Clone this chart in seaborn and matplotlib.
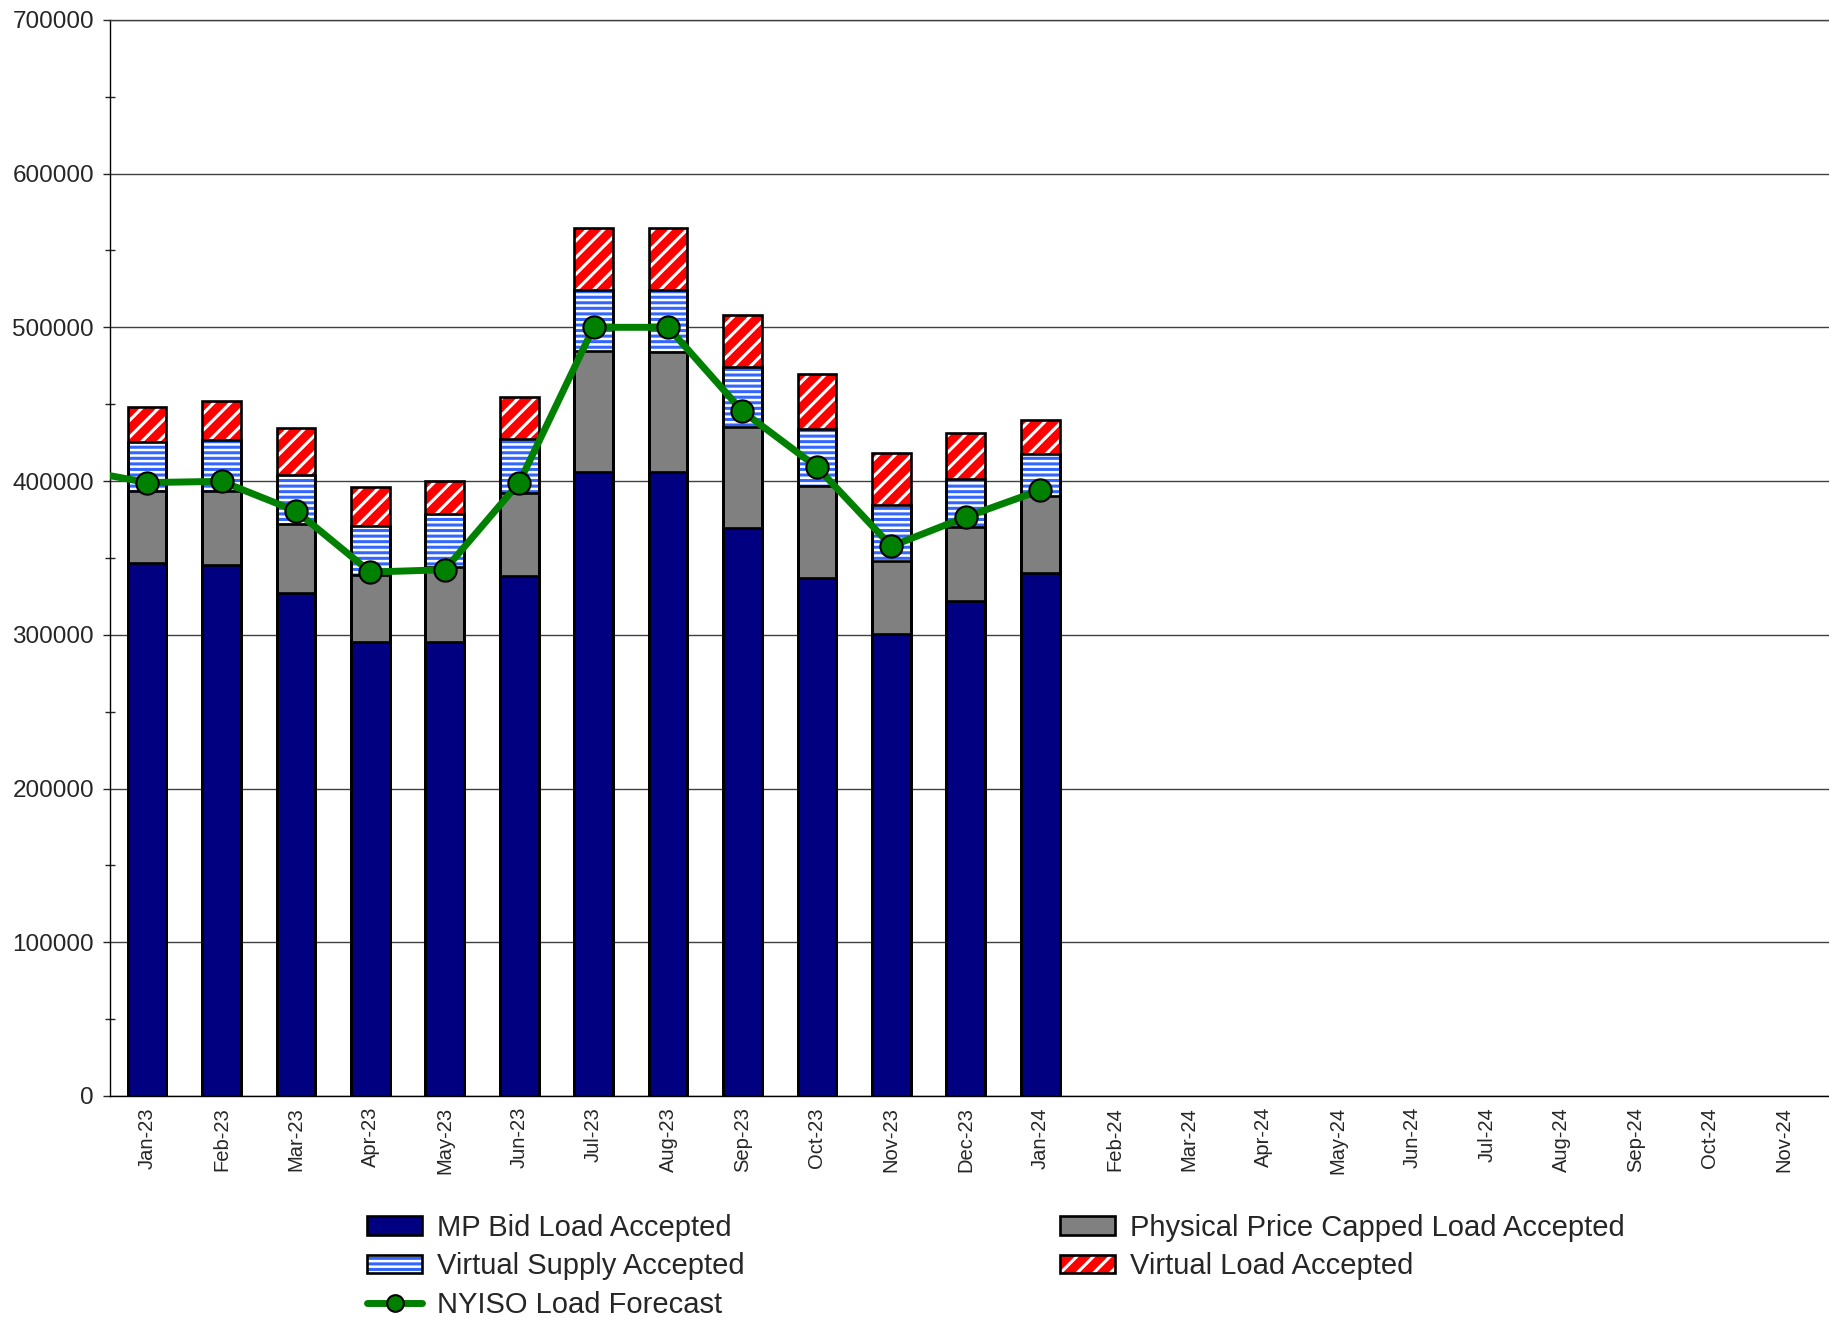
import numpy as np
import pandas as pd
import matplotlib
matplotlib.use('Agg')
import matplotlib.pyplot as plt
import seaborn as sns
from matplotlib.patches import Patch
from matplotlib.lines import Line2D

# Monthly values
months = ['Jan-23', 'Feb-23', 'Mar-23', 'Apr-23', 'May-23', 'Jun-23', 'Jul-23',
          'Aug-23', 'Sep-23', 'Oct-23', 'Nov-23', 'Dec-23', 'Jan-24', 'Feb-24',
          'Mar-24', 'Apr-24', 'May-24', 'Jun-24', 'Jul-24', 'Aug-24', 'Sep-24',
          'Oct-24', 'Nov-24']
mp_bid = [346600, 345600, 327100, 295200, 295600, 338200, 405900,
          405900, 369700, 336900, 300200, 322000, 340200]
phys_capped = [46700, 47700, 45200, 43400, 48400, 54200, 78500,
               78100, 65500, 59700, 48000, 47900, 49800]
virt_supply = [32100, 33200, 31400, 32400, 34300, 34700, 39800,
               40200, 39000, 37100, 36400, 31200, 27800]
virt_load = [22800, 25600, 30800, 25100, 21700, 27600, 40500,
             40500, 33700, 36200, 33900, 30200, 21800]
# forecast starts one month earlier (Dec-22), the line comes in from the left edge
forecast = [408000, 399000, 399800, 380500, 340800, 342300, 399000,
            500000, 500000, 445400, 409100, 357600, 376600, 394000]

n = len(mp_bid)
df = pd.DataFrame({'month': months[:n]})
df['mp'] = mp_bid
df['capped'] = df['mp'] + np.array(phys_capped)
df['vsupply'] = df['capped'] + np.array(virt_supply)
df['vload'] = df['vsupply'] + np.array(virt_load)

sns.set_style('white')
plt.rcParams['font.family'] = ['Liberation Sans', 'DejaVu Sans']
plt.rcParams['hatch.linewidth'] = 2.2

navy = '#000080'
gray = '#808080'
blue = '#3366FF'
red = '#FF0000'
green = '#008000'
bw = 0.52

fig = plt.figure(figsize=(18.29, 13.23), dpi=100)
ax = fig.add_axes([0.0601, 0.1716, 0.9399, 0.8134])

# stacked bars drawn as overlapping cumulative totals, top layer first
sns.barplot(data=df, x='month', y='vload', order=months, ax=ax, width=bw,
            errorbar=None, saturation=1, color=red, edgecolor='white',
            hatch='//', linewidth=0)
sns.barplot(data=df, x='month', y='vsupply', order=months, ax=ax, width=bw,
            errorbar=None, saturation=1, color='white', edgecolor=blue,
            hatch='---', linewidth=0)
sns.barplot(data=df, x='month', y='capped', order=months, ax=ax, width=bw,
            errorbar=None, saturation=1, color=gray, linewidth=0)
sns.barplot(data=df, x='month', y='mp', order=months, ax=ax, width=bw,
            errorbar=None, saturation=1, color=navy, linewidth=0)
# black outlines for every segment
for col in ['vload', 'vsupply', 'capped', 'mp']:
    sns.barplot(data=df, x='month', y=col, order=months, ax=ax, width=bw,
                errorbar=None, fill=False, color='black', linewidth=1.9)

xs = np.arange(-1, n)
sns.lineplot(x=xs, y=forecast, ax=ax, color=green, linewidth=5,
             marker='o', markersize=16, markerfacecolor=green,
             markeredgecolor='black', markeredgewidth=1.5, zorder=5)

ax.set_xlim(-0.5, 22.6)
ax.set_ylim(0, 700000)
ax.set_xlabel('')
ax.set_ylabel('')

ax.set_xticks(np.arange(-0.5, 23, 1))
ax.set_xticklabels([])
ax.set_xticks(np.arange(len(months)), minor=True)
ax.set_xticklabels(months, minor=True, rotation=90, fontsize=14.5)
ax.tick_params(axis='x', which='major', length=5, width=1, color='black',
               direction='out')
ax.tick_params(axis='x', which='minor', length=0, pad=8)

yt = np.arange(0, 700001, 100000)
ax.set_yticks(yt)
ax.set_yticklabels([str(v) for v in yt], fontsize=17.5)
ax.set_yticks(np.arange(50000, 700000, 100000), minor=True)
ax.tick_params(axis='y', which='major', length=5, width=1, direction='out',
               pad=6.5, left=True)
ax.tick_params(axis='y', which='minor', length=7, width=1, direction='inout',
               left=True)

ax.set_axisbelow(True)
ax.yaxis.grid(True, color='#404040', linewidth=1.0)
ax.xaxis.grid(False)
for s in ['left', 'bottom']:
    ax.spines[s].set_color('black')
    ax.spines[s].set_linewidth(1.0)
ax.spines['top'].set_color('#404040')
ax.spines['top'].set_linewidth(1.0)
ax.spines['right'].set_visible(False)

handles = [
    (Patch(facecolor=navy, edgecolor='black', linewidth=1.9),),
    (Patch(facecolor='white', edgecolor=blue, hatch='---', linewidth=0),
     Patch(facecolor='none', edgecolor='black', linewidth=1.9)),
    Line2D([0], [0], color=green, linewidth=5, marker='o', markersize=12,
           markerfacecolor=green, markeredgecolor='black', markeredgewidth=1.5),
    (Patch(facecolor=gray, edgecolor='black', linewidth=1.9),),
    (Patch(facecolor=red, edgecolor='white', hatch='//', linewidth=0),
     Patch(facecolor='none', edgecolor='black', linewidth=1.9)),
]
labels = ['MP Bid Load Accepted', 'Virtual Supply Accepted', 'NYISO Load Forecast',
          'Physical Price Capped Load Accepted', 'Virtual Load Accepted']
fig.legend(handles, labels, ncol=2, loc='upper left',
           bbox_to_anchor=(0.2007, 0.0825), frameon=False, fontsize=21,
           borderpad=0, borderaxespad=0, handlelength=1.9, handleheight=0.6,
           handletextpad=0.5, labelspacing=0.36, columnspacing=10.8)

fig.savefig('out.png', dpi=100)
